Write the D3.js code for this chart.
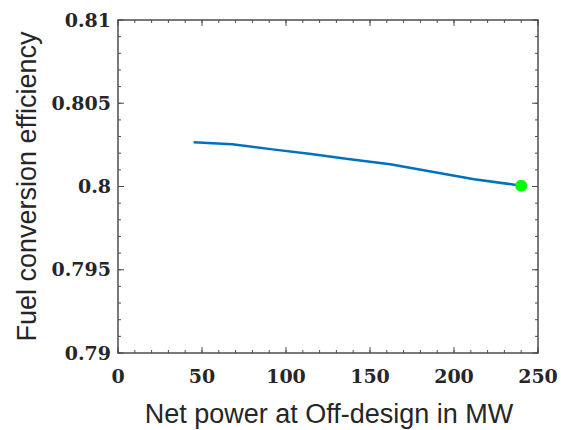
<!DOCTYPE html>
<html>
<head>
<meta charset="utf-8">
<script src="https://cdn.jsdelivr.net/npm/d3@7/dist/d3.min.js"></script>
<style>
  html, body { margin: 0; padding: 0; background: #fff; }
  svg { display: block; }
</style>
</head>
<body>
<script>
// Fuel conversion efficiency against net power at off-design operation
const netPower   = [45, 68, 92, 115, 137, 162, 187, 212, 240];
const efficiency = [0.80266, 0.80254, 0.80223, 0.80195, 0.80165, 0.80133, 0.80089, 0.80044, 0.80005];
const designPoint = { power: 240, eff: 0.80005 };

const xTicks = [0, 50, 100, 150, 200, 250];
const yTicks = [0.79, 0.795, 0.8, 0.805, 0.81];
const xTickLabels = ["0", "50", "100", "150", "200", "250"];
const yTickLabels = ["0.79", "0.795", "0.8", "0.805", "0.81"];

const W = 561, H = 430;
const m = { left: 118, top: 20, right: 23, bottom: 77 };
const iw = W - m.left - m.right, ih = H - m.top - m.bottom;

const svg = d3.select("body").append("svg").attr("width", W).attr("height", H);
const g = svg.append("g").attr("transform", `translate(${m.left},${m.top})`);

const x = d3.scaleLinear().domain([0, 250]).range([0, iw]);
const y = d3.scaleLinear().domain([0.79, 0.81]).range([ih, 0]);

const axisColor = "#4d4d4d";
const labelFont = "'DejaVu Serif', 'Liberation Serif', serif";
const titleFont = "'Liberation Sans', Arial, sans-serif";

// minor ticks (inward) on all four sides
const xMinor = d3.range(0, 251, 10);
const yMinor = d3.range(0, 21).map(i => 0.79 + i * 0.001);
function tickLines(sel, vals, scale, orient, len) {
  vals.forEach(v => {
    const p = scale(v);
    if (orient === "bottom") sel.append("line").attr("x1", p).attr("x2", p).attr("y1", ih).attr("y2", ih - len);
    if (orient === "top") sel.append("line").attr("x1", p).attr("x2", p).attr("y1", 0).attr("y2", len);
    if (orient === "left") sel.append("line").attr("y1", p).attr("y2", p).attr("x1", 0).attr("x2", len);
    if (orient === "right") sel.append("line").attr("y1", p).attr("y2", p).attr("x1", iw).attr("x2", iw - len);
  });
}
const ticks = g.append("g").attr("stroke", axisColor).attr("stroke-width", 1);
tickLines(ticks, xMinor, x, "bottom", 3);
tickLines(ticks, xMinor, x, "top", 3);
tickLines(ticks, yMinor, y, "left", 3);
tickLines(ticks, yMinor, y, "right", 3);
tickLines(ticks, xTicks, x, "bottom", 6);
tickLines(ticks, xTicks, x, "top", 6);
tickLines(ticks, yTicks, y, "left", 6);
tickLines(ticks, yTicks, y, "right", 6);

// frame
g.append("rect").attr("x", 0).attr("y", 0).attr("width", iw).attr("height", ih)
  .attr("fill", "none").attr("stroke", axisColor).attr("stroke-width", 1.5);

// tick labels
g.append("g").selectAll("text").data(xTicks).join("text")
  .attr("x", d => x(d)).attr("y", ih + 30)
  .attr("text-anchor", "middle")
  .attr("font-family", labelFont).attr("font-weight", "bold").attr("font-size", 19)
  .attr("fill", "#262626")
  .text((d, i) => xTickLabels[i]);

g.append("g").selectAll("text").data(yTicks).join("text")
  .attr("x", -7).attr("y", d => y(d)).attr("dy", "0.35em")
  .attr("text-anchor", "end")
  .attr("font-family", labelFont).attr("font-weight", "bold").attr("font-size", 19)
  .attr("fill", "#262626")
  .text((d, i) => yTickLabels[i]);

// axis titles
svg.append("text")
  .attr("x", 329).attr("y", 423)
  .attr("text-anchor", "middle")
  .attr("font-family", titleFont).attr("font-size", 27).attr("fill", "#262626")
  .text("Net power at Off-design in MW");

svg.append("text")
  .attr("transform", `translate(36,${m.top + ih / 2}) rotate(-90)`)
  .attr("text-anchor", "middle")
  .attr("font-family", titleFont).attr("font-size", 27).attr("fill", "#262626")
  .text("Fuel conversion efficiency");

// efficiency curve
const pts = netPower.map((p, i) => [p, efficiency[i]]);
g.append("path")
  .datum(pts)
  .attr("fill", "none").attr("stroke", "#0072BD").attr("stroke-width", 2.5)
  .attr("d", d3.line().x(d => x(d[0])).y(d => y(d[1])));

// design point marker
g.append("circle")
  .attr("cx", x(designPoint.power)).attr("cy", y(designPoint.eff)).attr("r", 6)
  .attr("fill", "#00ff00");
</script>
</body>
</html>
